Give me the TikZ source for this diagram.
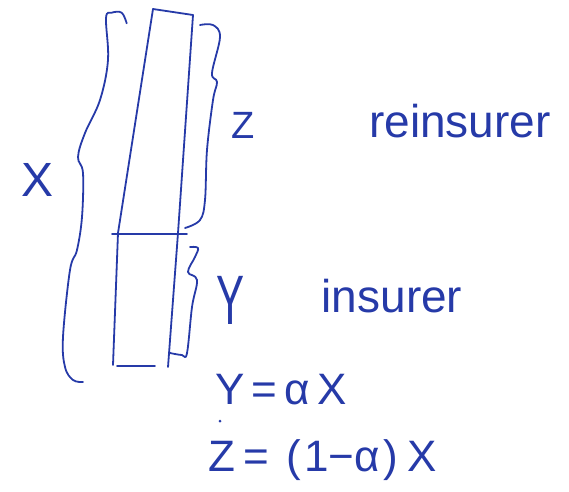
\documentclass[tikz,border=0pt]{standalone}
\usepackage{fontspec}
\setmainfont{Liberation Sans}
\definecolor{pen}{RGB}{38,58,168}
\begin{document}
\begin{tikzpicture}[x=1pt,y=-1pt,
  ink/.style={draw=pen,line width=1.8pt,line cap=round,line join=round},
  lbl/.style={text=pen,inner sep=0pt}]
\useasboundingbox (0,0) rectangle (569,491);
% tall box
\draw[ink] (153,9) -- (193,15);
\draw[ink] (153,9) -- (118,233) -- (113,365);
\draw[ink] (193,15) -- (178,233) -- (168,367);
\draw[ink] (117,366) -- (155,366);
\draw[ink] (112,234) -- (187,234);
% X brace
\draw[ink] plot[smooth,tension=0.6] coordinates {(126.7,23.3) (121.7,12.7) (111.7,12.7) (106,18) (108,60) (100,100) (85,133) (78,157) (83,173) (82,217) (77,250) (70,270) (63,337) (65,367) (73,380) (83,382)};
% Z brace
\draw[ink] plot[smooth,tension=0.6] coordinates {(200,25) (213,25) (220,37) (212,73) (217,82) (213,100) (207,150) (205,200) (200,220) (185,228)};
% Y brace
\draw[ink] plot[smooth,tension=0.6] coordinates {(190,247) (198,248) (195,257) (188,272) (197,280) (192,307) (187,353) (182,355) (170,353)};
\fill[pen] (220,421) circle (1.5);
% labels
\node[lbl,font=\fontsize{48}{48}\selectfont] (X) at (38,180) {X};
\node[lbl,font=\fontsize{38}{38}\selectfont] (Z) at (243,125) {Z};
\node[lbl,font=\fontsize{46}{46}\selectfont] (reins) at (460,121) {reinsurer};
\node[lbl,font=\fontsize{70}{70}\selectfont] (Y) at (231,300) {\scalebox{0.6}[1]{Y}};
\node[lbl,font=\fontsize{46}{46}\selectfont] (ins) at (392,296) {insurer};
\node[lbl,font=\fontsize{44}{44}\selectfont,anchor=west] (eq1) at (215,390) {Y\,=\,α\,X};
\node[lbl,font=\fontsize{44}{44}\selectfont,anchor=west] (eq2) at (208,460) {Z\hspace{8pt}=\hspace{18pt}(\hspace{3pt}1−α\hspace{3pt})\hspace{10pt}X};
\end{tikzpicture}
\end{document}
